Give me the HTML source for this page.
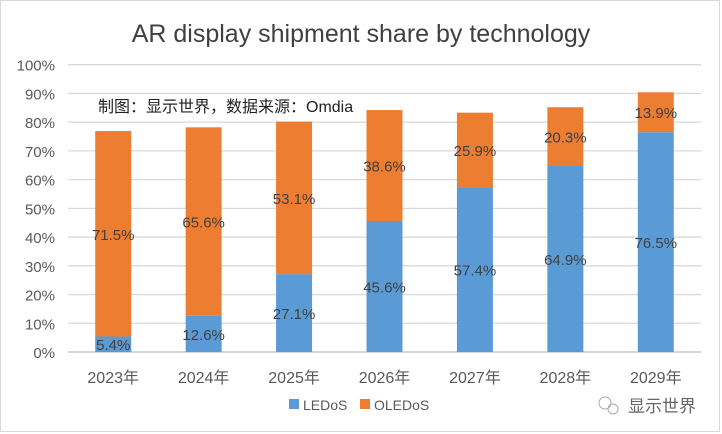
<!DOCTYPE html>
<html><head><meta charset="utf-8"><style>
body{margin:0;background:#fff}
svg{display:block;font-family:"Liberation Sans","Noto Sans CJK SC",sans-serif}
</style></head><body>
<svg id="chart" width="722" height="434">
<rect x="0.5" y="0.5" width="719" height="431" fill="#fff" stroke="#d9d9d9"/>
<text x="361" y="42" font-size="25" text-anchor="middle" fill="#404040">AR display shipment share by technology</text>
<g id="grid"></g><g id="bars"></g><g id="labels"></g>
<text x="98" y="112" font-size="16" fill="#222">制图：显示世界，数据来源：Omdia</text>
<g>
<rect x="289" y="399" width="10" height="10" fill="#5B9BD5"/>
<text x="303" y="410" font-size="14" fill="#595959">LEDoS</text>
<rect x="360" y="399" width="10" height="10" fill="#ED7D31"/>
<text x="374" y="410" font-size="14" fill="#595959">OLEDoS</text>
</g>
<g>
<circle cx="605" cy="403" r="6" fill="none" stroke="#aaa"/><circle cx="613" cy="409" r="5" fill="none" stroke="#aaa"/>
<text x="628" y="412" font-size="17" fill="#666">显示世界</text>
</g>
</svg>
<script>
const categories=["2023年","2024年","2025年","2026年","2027年","2028年","2029年"];
const ledos=[5.4,12.6,27.1,45.6,57.4,64.9,76.5];
const oledos=[71.5,65.6,53.1,38.6,25.9,20.3,13.9];
const ticks=[0,10,20,30,40,50,60,70,80,90,100];
const NS="http://www.w3.org/2000/svg";
const x0=68,x1=701,y0=352,y100=64.7,bw=36;
const y=v=>y0-(v/100)*(y0-y100);
const band=(x1-x0)/categories.length;
const xc=i=>x0+band*(i+0.5);
function mk(t,a,p){const e=document.createElementNS(NS,t);for(const k in a)e.setAttribute(k,a[k]);p.appendChild(e);return e;}
const g=document.getElementById('grid'),b=document.getElementById('bars'),l=document.getElementById('labels');
ticks.forEach(t=>{
 const ln=mk('line',{x1:x0,x2:x1,y1:y(t),y2:y(t),stroke:t===0?'#bfbfbf':'#d9d9d9','stroke-width':1.3},g);
 
 
 const tx=mk('text',{x:55,y:y(t)+6,'font-size':15,'text-anchor':'end',fill:'#595959'},g);
 tx.textContent=t+'%';
 
 
});
categories.forEach((c,i)=>{
 const cx=xc(i);
 const r1=mk('rect',{x:cx-bw/2,y:y(ledos[i]),width:bw,height:y0-y(ledos[i]),fill:'#5B9BD5'},b);
 
 
 const top=ledos[i]+oledos[i];
 const r2=mk('rect',{x:cx-bw/2,y:y(top),width:bw,height:y(ledos[i])-y(top),fill:'#ED7D31'},b);
 
 
 const t1=mk('text',{x:cx,y:y(ledos[i]/2)+6,'font-size':15,'text-anchor':'middle',fill:'#404040'},l);
 t1.textContent=ledos[i].toFixed(1)+'%';
 
 
 const t2=mk('text',{x:cx,y:y(ledos[i]+oledos[i]/2)+6,'font-size':15,'text-anchor':'middle',fill:'#404040'},l);
 t2.textContent=oledos[i].toFixed(1)+'%';
 
 
 const tx=mk('text',{x:cx,y:383,'font-size':16,'text-anchor':'middle',fill:'#595959'},l);
 tx.textContent=c;
 
 
});
</script>
</body></html>
